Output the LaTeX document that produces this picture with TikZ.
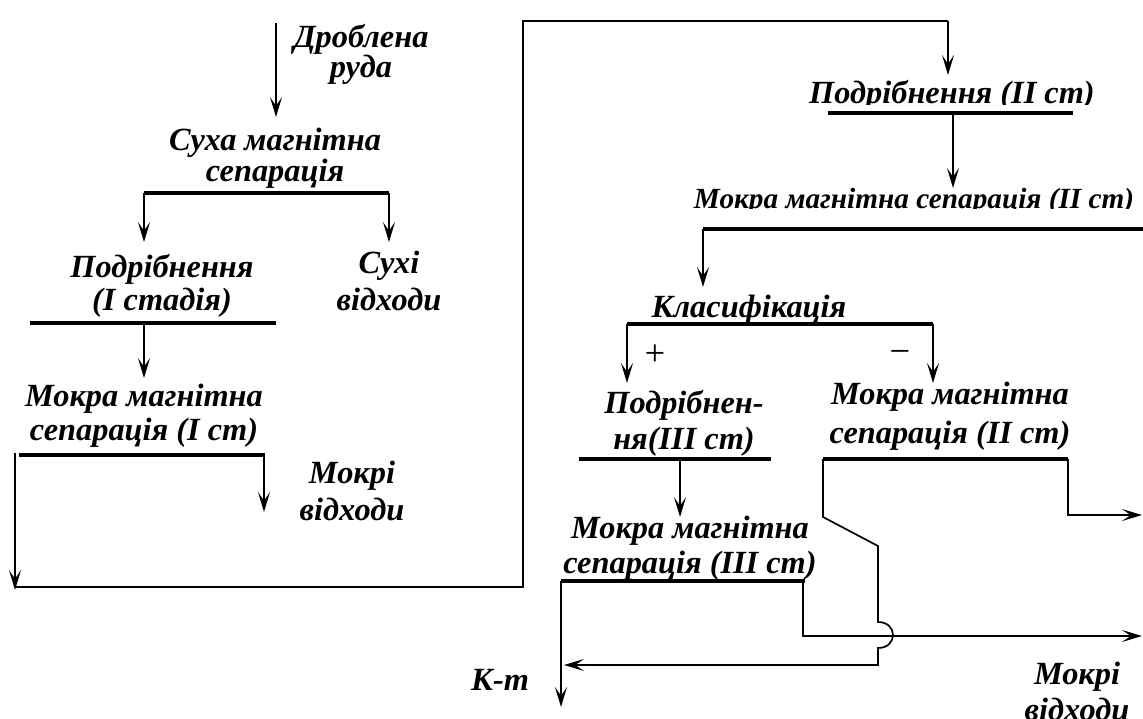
\documentclass[tikz,border=0pt]{standalone}
\usepackage{fontspec}
\setmainfont{Liberation Serif}
\usetikzlibrary{arrows.meta}
\tikzset{
  lbl/.style={font=\bfseries\itshape\fontsize{23}{#1}\selectfont, align=center, inner sep=0pt},
  lbl/.default=24pt,
  sign/.style={font=\fontsize{26}{26}\selectfont, inner sep=0pt},
  bar/.style={line width=2.6pt},
  pipe/.style={line width=1.2pt},
  flow/.style={pipe, -{Stealth[length=5mm,width=3mm,inset=2.2mm]}},
}
\begin{document}
\begin{tikzpicture}[x=0.025cm,y=-0.025cm]
\useasboundingbox (0,0) rectangle (1143,718);
% left column
\node[lbl=21.3pt] (drob) at (361,54) {Дроблена\\руда};
\node[lbl=20pt] (sux) at (275,158) {Суха магнітна\\сепарація};
\node[lbl=26.3pt] (suxv) at (389,281) {Сухі\\відходи};
\node[lbl=23.5pt] (podr1) at (162,286) {Подрібнення\\(І стадія)};
\node[lbl=24.2pt] (mok1) at (144,416) {Мокра магнітна\\сепарація (І ст)};
\node[lbl=26.3pt] (mokv1) at (352,491) {Мокрі\\відходи};
% right column, the two top texts are cut at their baselines
\begin{scope}
  \clip (780,60) rectangle (1143,104);
  \node[lbl, anchor=base] (podr2) at (952,103) {Подрібнення (ІІ ст)};
\end{scope}
\begin{scope}
  \clip (650,170) rectangle (1143,208);
  \node[lbl, font=\bfseries\itshape\fontsize{20.8}{24}\selectfont, anchor=base] (mok2) at (914,208) {Мокра магнітна сепарація (ІІ ст)};
\end{scope}
\node[lbl, anchor=base] (klas) at (749,317) {Класифікація};
\node[sign] (plus) at (655,355) {+};
\node[sign] (minus) at (900,357) {−};
\node[lbl=25.6pt] (podr3) at (684,423) {Подрібнен-\\ня(ІІІ ст)};
\node[lbl=27.7pt] (mok4) at (950,416) {Мокра магнітна\\сепарація (ІІ ст)};
\node[lbl=24.9pt] (mok3) at (690,548) {Мокра магнітна\\сепарація (ІІІ ст)};
\node[lbl, anchor=base] (kt) at (500,690) {К-т};
\node[lbl=25.6pt] (mokv2) at (1077,691) {Мокрі\\відходи};

% bars under the stages
\coordinate (b0l) at (144,193); \coordinate (b0r) at (389,193);
\coordinate (b1l) at (30,323);  \coordinate (b1r) at (276,323);
\coordinate (b2l) at (19,455);  \coordinate (b2r) at (265,455);
\coordinate (b3l) at (828,113); \coordinate (b3r) at (1073,113);
\coordinate (b4l) at (703,229); \coordinate (b4r) at (1143,229);
\coordinate (b5l) at (627,324); \coordinate (b5r) at (933,324);
\coordinate (b6l) at (579,459); \coordinate (b6r) at (771,459);
\coordinate (b7l) at (823,459); \coordinate (b7r) at (1068,459);
\coordinate (b8l) at (561,581); \coordinate (b8r) at (805,581);
\foreach \b in {0,...,8}
  \draw[bar] (b\b l) -- (b\b r);

% flows
\coordinate (in) at (276,23);
\draw[flow] (in) -- (276,117);
\draw[flow] (b0l) -- (144,242);
\draw[flow] (b0r) -- (389,242);
\draw[flow] (144,323) -- (144,378);
\draw[flow] (264,455) -- (264,512);
% recycle of the first stage concentrate
\coordinate (r1) at (15,453);
\draw[flow] (r1) -- (15,590);
\draw[pipe] (15,587) -- (523,587) -- (523,21) -- (948,21);
\draw[flow] (948,21) -- (948,75);
\draw[flow] (953,113) -- (953,188);
\draw[flow] (b4l) -- (703,287);
\draw[flow] (b5l) -- (627,383);
\draw[flow] (b5r) -- (933,383);
\draw[flow] (680,459) -- (680,517);
\draw[flow] (b8l) -- (561,707);
\draw[flow] (803,581) -- (803,636) -- (1142,636);
\draw[flow] (1068,459) -- (1068,515) -- (1142,515);
\draw[flow] (b7l) -- (823,517) -- (878,546) -- (878,622)
  .. controls (898,622) and (898,648) .. (878,648) -- (878,665) -- (564,665);
\end{tikzpicture}
\end{document}
